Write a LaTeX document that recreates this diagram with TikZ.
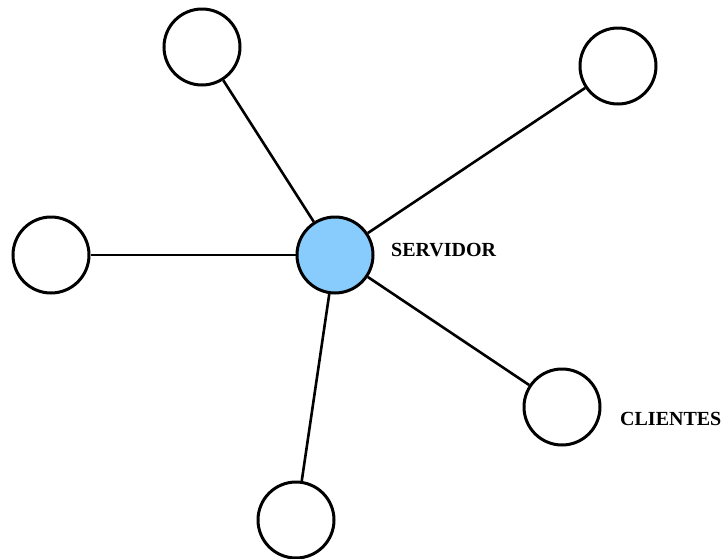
\documentclass[tikz,border=0pt]{standalone}
\usepackage{fontspec}
\setmainfont{Liberation Serif}
\definecolor{serverblue}{RGB}{135,204,252}
\begin{document}
\begin{tikzpicture}[x=1pt,y=-1pt,
  host/.style={circle,draw=black,line width=3pt,minimum size=76pt,inner sep=0pt,fill=white},
  server/.style={host,fill=serverblue},
  link/.style={line width=2.6pt},
  tag/.style={anchor=west,inner sep=0pt,font=\fontsize{20}{24}\selectfont\bfseries}]
  \useasboundingbox (0,0) rectangle (721,558);
  \node[server] (srv) at (335,255) {};
  \node[host] (c1) at (202,47) {};
  \node[host] (c2) at (618,66) {};
  \node[host] (c3) at (51,255) {};
  \node[host] (c4) at (562,407) {};
  \node[host] (c5) at (296,520) {};
  \foreach \c in {c1,c2,c3,c4,c5}
    \draw[link] (srv) -- (\c);
  \node[tag] (lsrv) at (391,250) {SERVIDOR};
  \node[tag] (lcli) at (620,419) {CLIENTES};
\end{tikzpicture}
\end{document}
